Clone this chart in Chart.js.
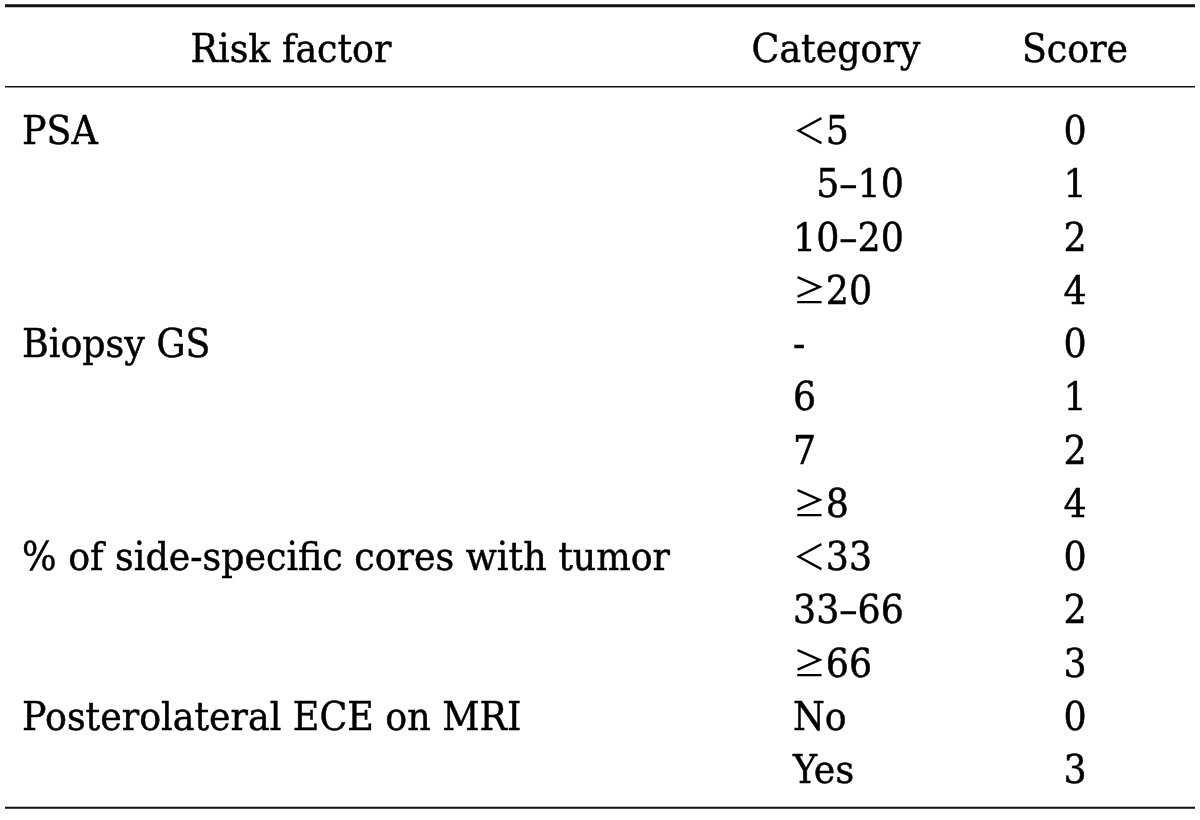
<!DOCTYPE html>
<html>
<head>
<meta charset="utf-8">
<script src="https://cdn.jsdelivr.net/npm/chart.js@4"></script>
<style>
html,body{margin:0;padding:0;background:#fff;}
#wrap{width:1200px;height:820px;position:relative;}
</style>
</head>
<body>
<div id="wrap"><canvas id="c"></canvas></div>
<script>
// ---- data ----
const headers = ["Risk factor", "Category", "Score"];
const riskFactors = ["PSA", "Biopsy GS", "% of side-specific cores with tumor", "Posterolateral ECE on MRI"];
const riskFactorRows = [0, 4, 8, 11];
const categories = ["\uFF1C5", "  5\u201310", "10\u201320", "\u226520", "-", "6", "7", "\u22658", "\uFF1C33", "33\u201366", "\u226566", "No", "Yes"];
const scores = [0, 1, 2, 4, 0, 1, 2, 4, 0, 2, 3, 0, 3];

// ---- layout (options) ----
const FONT_FAMILY = '"DejaVu Serif", serif';
const SYMBOL_FAMILY = '"Noto Sans CJK JP", "DejaVu Sans", sans-serif';
const SYMBOLS = "\uFF1C\u2265";
const layout = {
  factorX: 22, factorHeaderX: 291, categoryX: 793, categoryHeaderX: 836, scoreX: 1075,
  headerRow: -1.54, topRule: -2.33, headRule: -0.81, bottomRule: 12.73,
  ruleX0: 5, ruleX1: 1195, longTextWidth: 648, capHeight: 28.5
};

const tablePlugin = {
  id: 'tablePlugin',
  afterDatasetsDraw(chart) {
    const ctx = chart.ctx, xs = chart.scales.x, ys = chart.scales.y;
    ctx.save();
    ctx.font = '100px ' + FONT_FAMILY;
    const cap100 = ctx.measureText('H').actualBoundingBoxAscent;
    const size = 100 * layout.capHeight / cap100;
    const font = size + 'px ' + FONT_FAMILY;
    const symFont = (size * 0.9) + 'px ' + SYMBOL_FAMILY;
    ctx.font = font;
    const sx = layout.longTextWidth / ctx.measureText(riskFactors[2]).width;
    ctx.fillStyle = '#000';
    ctx.strokeStyle = '#000';
    ctx.textBaseline = 'alphabetic';
    const capH = layout.capHeight;
    const yText = v => ys.getPixelForValue(v) + capH / 2;

    const measure = (t) => {
      let w = 0, rest = t;
      if (SYMBOLS.includes(t[0])) { ctx.font = symFont; w += ctx.measureText(t[0]).width; rest = t.slice(1); }
      ctx.font = font; w += ctx.measureText(rest).width;
      return w * sx;
    };
    const draw = (t, x, y, align) => {
      let x0 = x;
      if (align === 'center') x0 = x - measure(t) / 2;
      ctx.save();
      ctx.translate(x0, y);
      ctx.scale(sx, 1);
      ctx.textAlign = 'left';
      ctx.lineWidth = 0.5;
      let cx = 0, rest = t;
      if (SYMBOLS.includes(t[0])) {
        ctx.font = symFont;
        ctx.fillText(t[0], cx, 0);
        cx += ctx.measureText(t[0]).width;
        rest = t.slice(1);
      }
      ctx.font = font;
      ctx.fillText(rest, cx, 0);
      ctx.strokeText(rest, cx, 0);
      ctx.restore();
    };

    draw(headers[0], xs.getPixelForValue(layout.factorHeaderX), yText(layout.headerRow), 'center');
    draw(headers[1], xs.getPixelForValue(layout.categoryHeaderX), yText(layout.headerRow), 'center');
    draw(headers[2], xs.getPixelForValue(layout.scoreX), yText(layout.headerRow), 'center');

    riskFactors.forEach((t, i) => draw(t, xs.getPixelForValue(layout.factorX), yText(riskFactorRows[i]), 'left'));
    categories.forEach((t, i) => draw(t, xs.getPixelForValue(layout.categoryX), yText(i), 'left'));
    const meta = chart.getDatasetMeta(0);
    meta.data.forEach((pt, i) => draw(String(scores[i]), pt.x, pt.y + capH / 2, 'center'));

    const rule = (v, lw) => {
      ctx.lineWidth = lw;
      ctx.beginPath();
      const y = ys.getPixelForValue(v);
      ctx.moveTo(xs.getPixelForValue(layout.ruleX0), y);
      ctx.lineTo(xs.getPixelForValue(layout.ruleX1), y);
      ctx.stroke();
    };
    ctx.strokeStyle = '#111';
    rule(layout.topRule, 3);
    rule(layout.headRule, 1.5);
    rule(layout.bottomRule, 2);
    ctx.restore();
  }
};

new Chart(document.getElementById('c'), {
  type: 'scatter',
  data: {
    datasets: [{
      data: scores.map((s, i) => ({ x: layout.scoreX, y: i })),
      pointRadius: 0, pointHoverRadius: 0
    }]
  },
  options: {
    responsive: true, maintainAspectRatio: false, animation: false,
    layout: { padding: 0 },
    plugins: { legend: { display: false }, tooltip: { enabled: false } },
    scales: {
      x: { type: 'linear', min: 0, max: 1200, display: false },
      y: { type: 'linear', min: -2.44, max: 12.96, reverse: true, display: false }
    }
  },
  plugins: [tablePlugin]
});
</script>
</body>
</html>
